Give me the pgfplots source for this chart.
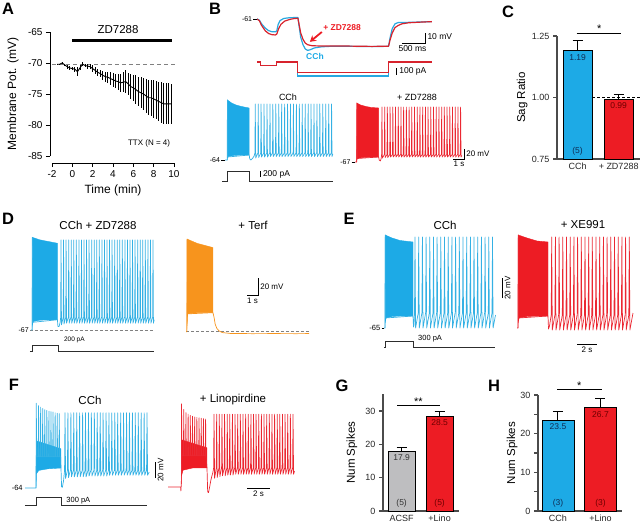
\documentclass[border=0pt]{standalone}
\usepackage{fontspec}
\setmainfont{Liberation Sans}
\usepackage{pgfplots}
\pgfplotsset{compat=1.18}
\usetikzlibrary{arrows.meta}

\definecolor{cblue}{RGB}{29,170,230}
\definecolor{sblue}{RGB}{52,177,228}
\definecolor{cred}{RGB}{237,28,36}
\definecolor{sred}{RGB}{235,40,50}
\definecolor{corange}{RGB}{247,148,29}
\definecolor{cgray}{RGB}{190,190,192}
\definecolor{axgray}{RGB}{75,75,75}
\definecolor{curr}{RGB}{45,45,45}
\definecolor{tblue}{RGB}{15,45,85}
\definecolor{tred}{RGB}{110,0,0}

\newcommand{\fs}[1]{\fontsize{#1}{#1}\selectfont}

\pgfplotsset{
  trace/.style={hide axis, scale only axis, clip=false, anchor=south west},
  barax/.style={scale only axis, anchor=south west, clip mode=individual,
    axis x line*=bottom, axis y line*=left,
    axis line style={line width=1.3pt, draw=axgray},
    tick style={line width=1.1pt, draw=axgray}, xtick style={draw=none},
    tick align=outside, major tick length=4pt, minor tick length=4pt,
    xtick={0,1},
    tick label style={font=\fs{9}, text=black!85},
    xticklabel style={yshift=3.5pt},
    ylabel style={font=\fs{11.5}, anchor=center}},
  spk/.style={line width=0.7pt, line join=round},
  bars/.style={ybar, bar shift=0pt, draw=black, line width=0.8pt,
    error bars/y dir=plus, error bars/y explicit,
    error bars/error bar style={line width=1pt, black},
    error bars/error mark options={rotate=90, line width=1pt, mark size=5pt, black}},
}

\begin{document}
\begin{tikzpicture}[x=1pt,y=-1pt]
\path[use as bounding box] (0,0) rectangle (640,525);

% panel letters
\foreach \l/\xx/\yy in {A/8/9,B/215/9,C/508/12,D/8/219,E/349/219,F/14/385,G/342/386,H/494/386}
  \node[font=\fs{16.5}\bfseries] at (\xx,\yy) {\l};

% ---------- A ----------
\begin{axis}[scale only axis, anchor=south west, at={(52pt,-156pt)}, width=122pt, height=124pt,
  xmin=-2, xmax=10, ymin=-85, ymax=-65, clip=false,
  axis x line*=bottom, axis y line*=left, axis x line shift=7pt, axis y line shift=2pt,
  axis line style={line width=0.8pt}, tick style={line width=0.8pt, black},
  tick align=outside, major tick length=4pt,
  xtick={-2,0,2,4,6,8,10}, xticklabels={-2,0,2,4,6,8,10},
  ytick={-85,-80,-75,-70,-65}, yticklabels={-85,-80,-75,-70,-65},
  tick label style={font=\fs{10}},
  xlabel={Time (min)}, ylabel={Membrane Pot. (mV)},
  xlabel style={font=\fs{12}, at={(axis description cs:0.5,0)}, anchor=center, yshift=-34pt},
  ylabel style={font=\fs{12}, at={(axis description cs:-0.32,0.5)}, anchor=center}]
\draw[gray, line width=0.8pt, dash pattern=on 4pt off 3pt] (axis cs:-2,-70.2) -- (axis cs:10.1,-70.2);
\addplot[black, line width=0.9pt, error bars/.cd, y dir=both, y explicit,
  error bar style={line width=0.9pt}, error mark=none] coordinates {
(-1.5,-70.2) +- (0,0.1) (-1.25,-70.2) +- (0,0.1) (-1,-70.0) +- (0,0.2) (-0.75,-70.3) +- (0,0.2)
(-0.5,-70.6) +- (0,0.3) (-0.25,-70.8) +- (0,0.3) (0,-70.9) +- (0,0.3) (0.25,-71.0) +- (0,0.4)
(0.5,-71.4) +- (0,0.7) (0.75,-70.8) +- (0,0.4) (1,-70.2) +- (0,0.3) (1.25,-70.4) +- (0,0.3)
(1.5,-70.5) +- (0,0.4) (1.75,-70.6) +- (0,0.4) (2,-70.9) +- (0,0.5) (2.25,-71.2) +- (0,0.5)
(2.5,-71.5) +- (0,0.6) (2.75,-71.7) +- (0,0.6) (3,-72.0) +- (0,0.7) (3.25,-72.2) +- (0,0.8)
(3.5,-72.3) +- (0,0.9) (3.75,-72.5) +- (0,1.0) (4,-72.7) +- (0,1.1) (4.25,-72.9) +- (0,1.2)
(4.5,-73.0) +- (0,1.3) (4.75,-73.2) +- (0,1.5) (5,-73.1) +- (0,1.6) (5.25,-73.0) +- (0,1.8)
(5.5,-73.4) +- (0,1.8) (5.75,-73.8) +- (0,2.0) (6,-74.0) +- (0,2.1) (6.25,-74.3) +- (0,2.3)
(6.5,-74.6) +- (0,2.4) (6.75,-74.8) +- (0,2.5) (7,-75.0) +- (0,2.6) (7.25,-75.3) +- (0,2.7)
(7.5,-75.6) +- (0,2.8) (7.75,-75.6) +- (0,2.9) (8,-75.8) +- (0,3.0) (8.25,-76.0) +- (0,3.1)
(8.5,-76.2) +- (0,3.2) (8.75,-76.4) +- (0,3.3) (9,-76.6) +- (0,3.3) (9.25,-76.6) +- (0,3.3)
(9.5,-76.6) +- (0,3.3) (9.75,-76.6) +- (0,3.2)};
\draw[line width=3pt] (axis cs:0,-66.3) -- (axis cs:9.8,-66.3);
\node[font=\fs{11.5}] at (axis cs:4.5,-64.6) {ZD7288};
\node[font=\fs{8}] at (axis cs:7.55,-82.9) {TTX (N = 4)};
\end{axis}

% ---------- B top: sag ----------
\begin{axis}[trace, at={(257pt,-55.4pt)}, width=174.8pt, height=42.8pt, xmin=0, xmax=3.8, ymin=-95, ymax=-55]
\addplot[color={rgb,255:red,40;green,168;blue,224}, line width=1.2pt, line join=round] coordinates {
(0,-61) (0.05,-62) (0.1,-65.5) (0.18,-69.5) (0.25,-71.8) (0.32,-72.8) (0.40,-73) (0.43,-72)
(0.46,-66) (0.5,-62.5) (0.58,-60.5) (0.7,-59.8) (0.89,-59.5) (0.91,-66) (0.95,-78) (1.0,-85)
(1.05,-89) (1.1,-90.3) (1.15,-89.8) (1.25,-88) (1.4,-87) (1.6,-86.5) (2.0,-86.5) (2.5,-86.8)
(2.86,-86.5) (2.89,-79) (2.94,-70) (3.0,-65.5) (3.07,-64.3) (3.3,-64.1) (3.6,-63.7) (3.8,-63.4)};
\addplot[color={rgb,255:red,215;green,35;blue,45}, line width=1.2pt, line join=round] coordinates {
(0,-61) (0.05,-62.5) (0.1,-67) (0.18,-72) (0.25,-74.5) (0.32,-75.6) (0.40,-75.9) (0.43,-75)
(0.47,-70) (0.52,-66) (0.6,-63) (0.7,-61.5) (0.8,-60.6) (0.89,-60.3) (0.91,-65) (0.95,-74)
(1.0,-80) (1.05,-83.5) (1.1,-85) (1.2,-86) (1.4,-86.2) (2.0,-86.3) (2.5,-86.6) (2.86,-86.4)
(2.89,-81) (2.94,-74) (3.0,-69) (3.07,-67) (3.15,-65.5) (3.3,-64.5) (3.6,-63.8) (3.8,-63.5)};
\draw[line width=0.6pt] (axis cs:-0.08,-61) -- (axis cs:0,-61);
\node[font=\fs{7}, anchor=east, inner sep=1pt] at (axis cs:-0.08,-61) {-61};
\draw[line width=0.8pt] (axis cs:3.15,-83.4) -- (axis cs:3.65,-83.4) -- (axis cs:3.65,-74.1);
\node[font=\fs{8.5}, anchor=west, inner sep=1.5pt] at (axis cs:3.67,-77.8) {10 mV};
\node[font=\fs{8.5}, anchor=north, inner sep=1.5pt] at (axis cs:3.38,-84) {500 ms};
\node[font=\fs{8.5}\bfseries, text=cred] at (axis cs:1.85,-69.4) {+ ZD7288};
\draw[cred, line width=1.8pt, -{Stealth[length=6pt,width=7pt]}] (axis cs:1.41,-73.1) -- (axis cs:1.15,-82.3);
\node[font=\fs{8.5}\bfseries, text=cblue] at (axis cs:1.26,-95.6) {CCh};
\end{axis}
\begin{axis}[trace, at={(257pt,-79.5pt)}, width=174.8pt, height=17.5pt, xmin=0, xmax=3.8, ymin=-250, ymax=0]
\addplot[color={rgb,255:red,40;green,168;blue,224}, line width=1.1pt] coordinates {
(0,0) (0.07,0) (0.07,-50) (0.43,-50) (0.43,0) (0.89,0) (0.89,-200) (2.86,-200) (2.86,0) (3.8,0)};
\addplot[color={rgb,255:red,215;green,35;blue,45}, line width=1.1pt] coordinates {
(0,0) (0.07,0) (0.07,-50) (0.43,-50) (0.43,0) (0.89,0) (0.89,-150) (2.86,-150) (2.86,0) (3.8,0)};
\draw[line width=0.8pt] (axis cs:3.04,-86) -- (axis cs:3.04,-186);
\node[font=\fs{8.5}, anchor=west, inner sep=1.5pt] at (axis cs:3.06,-136) {100 pA};
\end{axis}

% ---------- B bottom ----------
\node[font=\fs{9}] at (288,97) {CCh};
\node[font=\fs{9}] at (417,97) {+ ZD7288};
\begin{axis}[trace, at={(225pt,-168pt)}, width=110pt, height=70pt, xmin=0, xmax=10, ymin=-80, ymax=60]
\addplot[fill=cblue, draw=cblue, line width=0.4pt] coordinates {
(0.2,-64) (0.22,56) (0.6,50) (1.0,46) (1.5,43) (2.2,40) (2.2,-54) (1.5,-54) (0.8,-55) (0.3,-57) (0.22,-60)};
\addplot[sblue, spk] coordinates {
(0,-64) (0.2,-64) (0.22,56) (0.25,-58) (2.2,-54) (2.25,-62) (2.35,-64) (2.5,-61) (2.65,-56)
(2.72,-50) (2.75,48) (2.79,-60) (2.99,-50) (3.02,48) (3.06,-59) (3.25,-50) (3.28,48) (3.32,-58)
(3.52,-50) (3.55,48) (3.59,-58) (3.79,-50) (3.82,48) (3.86,-58) (4.06,-50) (4.09,48) (4.13,-57)
(4.32,-50) (4.35,48) (4.39,-57) (4.59,-50) (4.62,48) (4.66,-57) (4.86,-50) (4.89,48) (4.93,-57)
(5.12,-50) (5.15,48) (5.19,-57) (5.39,-50) (5.42,48) (5.46,-57) (5.66,-50) (5.69,48) (5.73,-57)
(5.92,-50) (5.95,48) (5.99,-57) (6.19,-50) (6.22,48) (6.26,-57) (6.46,-50) (6.49,48) (6.53,-57)
(6.73,-50) (6.76,48) (6.80,-57) (6.99,-50) (7.02,48) (7.06,-57) (7.26,-50) (7.29,48) (7.33,-57)
(7.53,-50) (7.56,48) (7.60,-57) (7.79,-50) (7.82,48) (7.86,-57) (8.06,-50) (8.09,48) (8.13,-57)
(8.33,-50) (8.36,48) (8.40,-57) (8.59,-50) (8.62,48) (8.66,-57) (8.86,-50) (8.89,48) (8.93,-57)
(9.13,-50) (9.16,48) (9.20,-57) (9.40,-50) (9.43,48) (9.47,-57) (9.66,-50) (9.69,48) (9.73,-57)
(9.8,-52)};
\draw[line width=0.6pt] (axis cs:-0.35,-64) -- (axis cs:0,-64);
\node[font=\fs{7}, anchor=east, inner sep=1pt] at (axis cs:-0.35,-64) {-64};
\end{axis}
\begin{axis}[trace, at={(355pt,-168.5pt)}, width=110pt, height=70pt, xmin=0, xmax=10, ymin=-80, ymax=60]
\addplot[fill=cred, draw=cred, line width=0.4pt] coordinates {
(0.15,-67) (0.17,51) (0.5,47) (1.0,44) (1.5,42) (2.15,41) (2.15,-57) (1.5,-57) (0.8,-58) (0.3,-59) (0.17,-62)};
\addplot[sred, spk] coordinates {
(0,-67) (0.15,-67) (0.17,51) (0.2,-60) (2.15,-57) (2.2,-63) (2.3,-65) (2.38,-60)
(2.42,-52) (2.45,43) (2.49,-59) (2.67,-52) (2.70,43) (2.74,-58) (2.91,-52) (2.94,43) (2.98,-58)
(3.16,-52) (3.19,43) (3.23,-57) (3.41,-52) (3.44,43) (3.48,-57) (3.65,-52) (3.68,43) (3.72,-57)
(3.90,-52) (3.93,43) (3.97,-57) (4.15,-52) (4.18,43) (4.22,-57) (4.39,-52) (4.42,43) (4.46,-57)
(4.64,-52) (4.67,43) (4.71,-57) (4.89,-52) (4.92,43) (4.96,-57) (5.13,-52) (5.16,43) (5.20,-57)
(5.38,-52) (5.41,43) (5.45,-57) (5.63,-52) (5.66,43) (5.70,-57) (5.87,-52) (5.90,43) (5.94,-57)
(6.12,-52) (6.15,43) (6.19,-57) (6.37,-52) (6.40,43) (6.44,-57) (6.61,-52) (6.64,43) (6.68,-57)
(6.86,-52) (6.89,43) (6.93,-57) (7.11,-52) (7.14,43) (7.18,-57) (7.35,-52) (7.38,43) (7.42,-57)
(7.60,-52) (7.63,43) (7.67,-57) (7.85,-52) (7.88,43) (7.92,-57) (8.09,-52) (8.12,43) (8.16,-57)
(8.34,-52) (8.37,43) (8.41,-57) (8.59,-52) (8.62,43) (8.66,-57) (8.83,-52) (8.86,43) (8.90,-57)
(9.08,-52) (9.11,43) (9.15,-57) (9.33,-52) (9.36,43) (9.40,-57) (9.57,-52) (9.60,43) (9.64,-57)
(9.72,-54)};
\draw[line width=0.6pt] (axis cs:-0.3,-67) -- (axis cs:0,-67);
\node[font=\fs{7}, anchor=east, inner sep=1pt] at (axis cs:-0.3,-67) {-67};
\draw[line width=0.8pt] (axis cs:8.95,-61) -- (axis cs:9.95,-61) -- (axis cs:9.95,-41);
\node[font=\fs{8}, anchor=west, inner sep=1.5pt] at (axis cs:9.97,-51) {20 mV};
\node[font=\fs{8}, anchor=north, inner sep=1.5pt] at (axis cs:9.45,-62) {1 s};
\end{axis}
\begin{axis}[trace, at={(221.7pt,-181pt)}, width=113.3pt, height=10.5pt, xmin=-0.3, xmax=10, ymin=0, ymax=350]
\addplot[curr, line width=0.8pt] coordinates {(-0.27,0) (0.2,0) (0.2,330) (2.2,330) (2.2,0) (9.8,0)};
\draw[line width=0.8pt] (axis cs:3.2,130) -- (axis cs:3.2,330);
\node[font=\fs{8.5}, anchor=west, inner sep=1.5pt] at (axis cs:3.3,230) {200 pA};
\end{axis}

% ---------- C ----------
\begin{axis}[barax, at={(557pt,-159pt)}, width=83pt, height=123pt, xmin=-0.5, xmax=1.52,
  ymin=0.75, ymax=1.25, ytick={0.75,1,1.25}, yticklabels={0.75,1.00,1.25},
  xticklabels={CCh,+ ZD7288}, ylabel={Sag Ratio},
  ylabel style={at={(axis description cs:-0.42,0.5)}}]
\addplot[bars, bar width=0.71, fill=cblue] coordinates {(0,1.19) +- (0,0.04)};
\addplot[bars, bar width=0.71, fill=cred] coordinates {(1,0.994) +- (0,0.018)};
\draw[black, line width=0.8pt, dash pattern=on 3pt off 2pt] (axis cs:0.36,1) -- (axis cs:1.52,1);
\node[font=\fs{8.5}, text=tblue, anchor=north] at (axis cs:0,1.19) {1.19};
\node[font=\fs{8.5}, text=tred, anchor=north] at (axis cs:1,0.994) {0.99};
\node[font=\fs{8.5}, text=tblue, anchor=south] at (axis cs:0,0.75) {(5)};
\draw[line width=1pt] (axis cs:-0.02,1.262) -- (axis cs:1.05,1.262);
\node[font=\fs{11}, anchor=south, inner sep=0pt] at (axis cs:0.53,1.262) {*};
\end{axis}

% ---------- D ----------
\node[font=\fs{11.5}] at (98,225) {CCh + ZD7288};
\node[font=\fs{11.5}] at (253,225) {+ Terf};
\begin{axis}[trace, at={(31pt,-341pt)}, width=123.2pt, height=119pt, xmin=0, xmax=11.2, ymin=-80, ymax=60]
\draw[gray, line width=0.8pt, dash pattern=on 3pt off 2pt] (axis cs:-0.1,-67) -- (axis cs:11.2,-67);
\addplot[fill=cblue, draw=cblue, line width=0.4pt] coordinates {
(0.1,-67) (0.12,42) (0.8,39) (1.6,37) (2.4,35) (2.4,-55) (1.6,-55) (0.8,-55.5) (0.2,-57) (0.12,-62)};
\addplot[sblue, spk] coordinates {
(0,-67) (0.1,-67) (0.12,42) (0.15,-58) (2.4,-55) (2.45,-63) (2.55,-63) (2.65,-58)
(2.70,-52) (2.73,39) (2.77,-61) (2.93,-52) (2.96,39) (3.00,-60) (3.16,-52) (3.19,39) (3.23,-59)
(3.40,-52) (3.43,39) (3.47,-59) (3.63,-52) (3.66,39) (3.70,-59) (3.86,-52) (3.89,39) (3.93,-59)
(4.09,-52) (4.12,39) (4.16,-59) (4.33,-52) (4.36,39) (4.40,-59) (4.56,-52) (4.59,39) (4.63,-59)
(4.79,-52) (4.82,39) (4.86,-59) (5.02,-52) (5.05,39) (5.09,-59) (5.25,-52) (5.28,39) (5.32,-59)
(5.49,-52) (5.52,39) (5.56,-59) (5.72,-52) (5.75,39) (5.79,-59) (5.95,-52) (5.98,39) (6.02,-59)
(6.18,-52) (6.21,39) (6.25,-59) (6.42,-52) (6.45,39) (6.49,-59) (6.65,-52) (6.68,39) (6.72,-59)
(6.88,-52) (6.91,39) (6.95,-59) (7.11,-52) (7.14,39) (7.18,-59) (7.34,-52) (7.37,39) (7.41,-59)
(7.58,-52) (7.61,39) (7.65,-59) (7.81,-52) (7.84,39) (7.88,-59) (8.04,-52) (8.07,39) (8.11,-59)
(8.27,-52) (8.30,39) (8.34,-59) (8.51,-52) (8.54,39) (8.58,-59) (8.74,-52) (8.77,39) (8.81,-59)
(8.97,-52) (9.00,39) (9.04,-59) (9.20,-52) (9.23,39) (9.27,-59) (9.43,-52) (9.46,39) (9.50,-59)
(9.67,-52) (9.70,39) (9.74,-59) (9.90,-52) (9.93,39) (9.97,-59) (10.13,-52) (10.16,39) (10.20,-59)
(10.36,-52) (10.39,39) (10.43,-59) (10.60,-52) (10.63,39) (10.67,-59) (10.83,-52) (10.86,39) (10.90,-59)
(11.06,-52) (11.09,39) (11.13,-59) (11.2,-55)};
\node[font=\fs{7}, anchor=east, inner sep=1pt] at (axis cs:-0.1,-67) {-67};
\end{axis}
\begin{axis}[trace, at={(186pt,-342.75pt)}, width=123.2pt, height=119pt, xmin=0, xmax=11.2, ymin=-80, ymax=60]
\draw[gray, line width=0.8pt, dash pattern=on 3pt off 2pt] (axis cs:0,-67) -- (axis cs:11.2,-67);
\addplot[fill=corange, draw=corange, line width=0.4pt] coordinates {
(0.08,-67) (0.1,42) (1.0,37) (2.45,32) (2.45,-44.6) (1.0,-44.6) (0.15,-46) (0.1,-60)};
\addplot[corange, spk] coordinates {
(0,-67) (0.08,-67) (0.1,42) (0.13,-46) (2.45,-44.6) (2.55,-50) (2.65,-58) (2.8,-63) (3.0,-66)
(3.3,-68) (4,-69) (6,-69.3) (8,-69.2) (10,-69.3) (11.2,-69.2)};
\draw[line width=0.8pt] (axis cs:5.55,-23.8) -- (axis cs:6.55,-23.8) -- (axis cs:6.55,-3.8);
\node[font=\fs{8}, anchor=west, inner sep=1.5pt] at (axis cs:6.6,-13.8) {20 mV};
\node[font=\fs{8}, anchor=north, inner sep=1.5pt] at (axis cs:6.05,-25) {1 s};
\end{axis}
\begin{axis}[trace, at={(31pt,-351pt)}, width=123.2pt, height=6.25pt, xmin=0, xmax=11.2, ymin=0, ymax=250]
\addplot[curr, line width=0.8pt] coordinates {(-0.1,0) (0.1,0) (0.1,240) (2.45,240) (2.45,0) (11.2,0)};
\node[font=\fs{6.5}, anchor=west, inner sep=1pt] at (axis cs:2.9,440) {200 pA};
\end{axis}

% ---------- E ----------
\node[font=\fs{11.5}] at (445,225) {CCh};
\node[font=\fs{11.5}] at (583,225) {+ XE991};
\begin{axis}[trace, at={(384pt,-338pt)}, width=112pt, height=110pt, xmin=0, xmax=11.2, ymin=-75, ymax=35]
\addplot[fill=cblue, draw=cblue, line width=0.4pt] coordinates {
(0.1,-65) (0.12,28) (0.8,25) (1.6,22.5) (2.9,21) (2.9,-53) (1.6,-53) (0.8,-53.5) (0.2,-55) (0.12,-60)};
\addplot[sblue, spk] coordinates {
(0,-65) (0.1,-65) (0.12,28) (0.15,-55) (2.9,-53) (2.95,-64) (3.0,-62)
(3.05,-50) (3.10,26) (3.16,-65) (3.42,-50) (3.47,26) (3.53,-65) (3.79,-50) (3.84,26) (3.90,-65)
(4.16,-50) (4.21,26) (4.27,-65) (4.53,-50) (4.58,26) (4.64,-65) (4.90,-50) (4.95,26) (5.01,-65)
(5.26,-50) (5.31,26) (5.37,-65) (5.63,-50) (5.68,26) (5.74,-65) (6.00,-50) (6.05,26) (6.11,-65)
(6.37,-50) (6.42,26) (6.48,-65) (6.74,-50) (6.79,26) (6.85,-65) (7.11,-50) (7.16,26) (7.22,-65)
(7.48,-50) (7.53,26) (7.59,-65) (7.85,-50) (7.90,26) (7.96,-65) (8.22,-50) (8.27,26) (8.33,-65)
(8.59,-50) (8.64,26) (8.70,-65) (8.95,-50) (9.00,26) (9.06,-65) (9.32,-50) (9.37,26) (9.43,-65)
(9.69,-50) (9.74,26) (9.80,-65) (10.06,-50) (10.11,26) (10.17,-65) (10.43,-50) (10.48,26) (10.54,-65)
(10.80,-50) (10.85,26) (10.91,-65) (11.15,-52)};
\draw[line width=0.6pt] (axis cs:-0.25,-65) -- (axis cs:0,-65);
\node[font=\fs{7.5}, anchor=east, inner sep=1pt] at (axis cs:-0.25,-65) {-65};
\draw[line width=0.8pt] (axis cs:11.8,-35) -- (axis cs:11.8,-15);
\node[font=\fs{8}, rotate=90, anchor=north, inner sep=1.5pt] at (axis cs:11.9,-25) {20 mV};
\end{axis}
\begin{axis}[trace, at={(517pt,-338pt)}, width=118pt, height=110pt, xmin=0, xmax=11.8, ymin=-75, ymax=35]
\addplot[fill=cred, draw=cred, line width=0.4pt] coordinates {
(0.1,-65) (0.12,28) (1.0,25) (2.0,22) (3.1,21) (3.1,-53) (2.0,-53) (1.0,-53.5) (0.2,-55) (0.12,-60)};
\addplot[sred, spk] coordinates {
(0,-65) (0.1,-65) (0.12,28) (0.15,-55) (3.1,-53) (3.15,-66) (3.25,-63)
(3.42,-52) (3.47,26) (3.53,-67) (3.79,-52) (3.84,26) (3.90,-67) (4.16,-52) (4.21,26) (4.27,-67)
(4.53,-52) (4.58,26) (4.64,-67) (4.90,-52) (4.95,26) (5.01,-67) (5.27,-52) (5.32,26) (5.38,-67)
(5.64,-52) (5.69,26) (5.75,-67) (6.01,-52) (6.06,26) (6.12,-67) (6.38,-52) (6.43,26) (6.49,-67)
(6.75,-52) (6.80,26) (6.86,-67) (7.12,-52) (7.17,26) (7.23,-67) (7.48,-52) (7.53,26) (7.59,-67)
(7.85,-52) (7.90,26) (7.96,-67) (8.22,-52) (8.27,26) (8.33,-67) (8.59,-52) (8.64,26) (8.70,-67)
(8.96,-52) (9.01,26) (9.07,-67) (9.33,-52) (9.38,26) (9.44,-67) (9.70,-52) (9.75,26) (9.81,-67)
(10.07,-52) (10.12,26) (10.18,-67) (10.44,-52) (10.49,26) (10.55,-67) (10.81,-52) (10.86,26) (10.92,-67)
(11.18,-52) (11.23,26) (11.29,-67) (11.6,-50)};
\draw[line width=0.8pt] (axis cs:6,-81) -- (axis cs:8,-81);
\node[font=\fs{8}, anchor=north, inner sep=1.5pt] at (axis cs:7,-82) {2 s};
\end{axis}
\begin{axis}[trace, at={(384pt,-347pt)}, width=112pt, height=7pt, xmin=0, xmax=11.2, ymin=0, ymax=350]
\addplot[curr, line width=0.8pt] coordinates {(0,0) (0.1,0) (0.1,300) (2.9,300) (2.9,0) (11.1,0)};
\node[font=\fs{7.5}, anchor=west, inner sep=1pt] at (axis cs:3.3,420) {300 pA};
\end{axis}

% ---------- F ----------
\node[font=\fs{11.5}] at (90,400) {CCh};
\node[font=\fs{11.5}] at (233,400) {+ Linopirdine};
\begin{axis}[trace, at={(25pt,-500.8pt)}, width=126.5pt, height=104pt, xmin=0, xmax=11, ymin=-80, ymax=50]
\addplot[fill=cblue, draw=cblue, line width=0.4pt] coordinates {
(0.96,-64) (0.98,-5) (3.13,-15) (3.13,-39) (2.0,-40) (1.2,-42) (1.0,-46) (0.97,-60)};
\addplot[sblue, spk] coordinates {
(0,-64) (0.96,-64) (0.98,42) (1.02,-25) (1.15,-25) (1.18,39) (1.21,-25) (1.33,-25) (1.36,37) (1.39,-25)
(1.51,-25) (1.54,35.5) (1.57,-25) (1.69,-25) (1.72,34) (1.75,-25) (1.87,-25) (1.90,33) (1.93,-25)
(2.05,-25) (2.08,32) (2.11,-25) (2.23,-25) (2.26,31.5) (2.29,-25) (2.41,-25) (2.44,31) (2.47,-25)
(2.59,-25) (2.62,30) (2.65,-25) (2.77,-25) (2.80,29.5) (2.83,-25) (2.95,-25) (2.98,29) (3.01,-25)
(3.10,-25) (3.13,-39) (3.18,-62.5) (3.25,-63) (3.35,-55)
(3.44,-42) (3.48,30) (3.53,-52) (3.69,-42) (3.73,30) (3.78,-51) (3.95,-42) (3.99,30) (4.04,-50)
(4.20,-42) (4.24,30) (4.29,-50) (4.46,-42) (4.50,30) (4.55,-50) (4.71,-42) (4.75,30) (4.80,-50)
(4.97,-42) (5.01,30) (5.06,-50) (5.22,-42) (5.26,30) (5.31,-50) (5.48,-42) (5.52,30) (5.57,-49)
(5.73,-42) (5.77,30) (5.82,-49) (5.99,-42) (6.03,30) (6.08,-49) (6.24,-42) (6.28,30) (6.33,-49)
(6.50,-42) (6.54,30) (6.59,-49) (6.75,-42) (6.79,30) (6.84,-49) (7.01,-42) (7.05,30) (7.10,-49)
(7.26,-42) (7.30,30) (7.35,-48) (7.51,-42) (7.55,30) (7.60,-48) (7.77,-42) (7.81,30) (7.86,-48)
(8.02,-42) (8.06,30) (8.11,-48) (8.28,-42) (8.32,30) (8.37,-48) (8.53,-42) (8.57,30) (8.62,-48)
(8.79,-42) (8.83,30) (8.88,-48) (9.04,-42) (9.08,30) (9.13,-48) (9.30,-42) (9.34,30) (9.39,-48)
(9.55,-42) (9.59,30) (9.64,-48) (9.81,-42) (9.85,30) (9.90,-48) (10.06,-42) (10.10,30) (10.15,-48)
(10.32,-42) (10.36,30) (10.41,-48) (10.57,-42) (10.61,30) (10.66,-48) (10.8,-44)};
\node[font=\fs{7.5}, anchor=east, inner sep=1pt] at (axis cs:-0.1,-64) {-64};
\draw[line width=0.8pt] (axis cs:11.3,-51.5) -- (axis cs:11.3,-31.5);
\node[font=\fs{8}, rotate=90, anchor=north, inner sep=1.5pt] at (axis cs:11.4,-41.5) {20 mV};
\end{axis}
\begin{axis}[trace, at={(168pt,-499.8pt)}, width=126.5pt, height=104pt, xmin=0, xmax=11, ymin=-80, ymax=50]
\addplot[fill=cred, draw=cred, line width=0.4pt] coordinates {
(1.16,-60) (1.18,-5) (3.39,-15) (3.39,-40) (2.2,-40) (1.3,-43) (1.18,-50)};
\addplot[sred, spk] coordinates {
(0,-64) (1.10,-64) (1.12,-69) (1.16,-60) (1.18,40) (1.21,-25) (1.34,-25) (1.37,33) (1.40,-25)
(1.53,-25) (1.56,29) (1.59,-25) (1.72,-25) (1.75,27) (1.78,-25) (1.91,-25) (1.94,25.5) (1.97,-25)
(2.10,-25) (2.13,24.5) (2.16,-25) (2.29,-25) (2.32,23.5) (2.35,-25) (2.48,-25) (2.51,23) (2.54,-25)
(2.67,-25) (2.70,22.5) (2.73,-25) (2.86,-25) (2.89,22) (2.92,-25) (3.05,-25) (3.08,21.5) (3.11,-25)
(3.24,-25) (3.27,21) (3.30,-25) (3.39,-40) (3.45,-70) (3.52,-71) (3.62,-64) (3.72,-56) (3.82,-50) (3.90,-46)
(3.97,-40) (4.00,27) (4.05,-53) (4.20,-40) (4.23,27) (4.28,-52) (4.43,-40) (4.46,27) (4.51,-51)
(4.66,-40) (4.69,27) (4.74,-50) (4.89,-40) (4.92,27) (4.97,-50) (5.12,-40) (5.15,27) (5.20,-49)
(5.34,-40) (5.37,27) (5.42,-49) (5.57,-40) (5.60,27) (5.65,-49) (5.80,-40) (5.83,27) (5.88,-48)
(6.03,-40) (6.06,27) (6.11,-48) (6.26,-40) (6.29,27) (6.34,-48) (6.49,-40) (6.52,27) (6.57,-48)
(6.72,-40) (6.75,27) (6.80,-48) (6.95,-40) (6.98,27) (7.03,-48) (7.18,-40) (7.21,27) (7.26,-48)
(7.41,-40) (7.44,27) (7.49,-48) (7.63,-40) (7.66,27) (7.71,-48) (7.86,-40) (7.89,27) (7.94,-48)
(8.09,-40) (8.12,27) (8.17,-48) (8.32,-40) (8.35,27) (8.40,-48) (8.55,-40) (8.58,27) (8.63,-48)
(8.78,-40) (8.81,27) (8.86,-48) (9.01,-40) (9.04,27) (9.09,-48) (9.24,-40) (9.27,27) (9.32,-48)
(9.47,-40) (9.50,27) (9.55,-48) (9.69,-40) (9.72,27) (9.77,-48) (9.92,-40) (9.95,27) (10.00,-48)
(10.15,-40) (10.18,27) (10.23,-48) (10.38,-40) (10.41,27) (10.46,-48) (10.61,-40) (10.64,27) (10.69,-48)
(10.84,-40) (10.87,27) (10.92,-48) (11.0,-44)};
\draw[line width=0.8pt] (axis cs:6.87,-65.3) -- (axis cs:8.87,-65.3);
\node[font=\fs{8}, anchor=north, inner sep=1.5pt] at (axis cs:7.87,-66.5) {2 s};
\end{axis}
\begin{axis}[trace, at={(25pt,-505pt)}, width=126.5pt, height=8pt, xmin=0, xmax=11, ymin=0, ymax=300]
\addplot[curr, line width=0.8pt] coordinates {(0,0) (0.96,0) (0.96,300) (3.13,300) (3.13,0) (10.6,0)};
\node[font=\fs{7.5}, anchor=west, inner sep=1pt] at (axis cs:3.5,150) {300 pA};
\end{axis}

% ---------- G ----------
\begin{axis}[barax, at={(383pt,-511pt)}, width=76pt, height=116.7pt, xmin=-0.49, xmax=1.51,
  ymin=0, ymax=35, ytick={0,10,20,30}, yticklabels={0,10,20,30},
  xticklabels={ACSF,+Lino}, ylabel={Num Spikes},
  ylabel style={at={(axis description cs:-0.41,0.5)}}]
\addplot[bars, bar width=0.71, fill=cgray] coordinates {(0,17.9) +- (0,1.2)};
\addplot[bars, bar width=0.71, fill=cred] coordinates {(1,28.5) +- (0,1.4)};
\node[font=\fs{8.5}, text=black!80, anchor=north] at (axis cs:0,17.9) {17.9};
\node[font=\fs{8.5}, text=tred, anchor=north] at (axis cs:1,28.5) {28.5};
\node[font=\fs{8.5}, text=black!80, anchor=south] at (axis cs:0,0) {(5)};
\node[font=\fs{8.5}, text=tred, anchor=south] at (axis cs:1,0) {(5)};
\draw[line width=1pt] (axis cs:-0.12,31.5) -- (axis cs:1.01,31.5);
\node[font=\fs{11}, anchor=south, inner sep=0pt] at (axis cs:0.44,31.5) {**};
\end{axis}

% ---------- H ----------
\begin{axis}[barax, at={(538pt,-511pt)}, width=83.7pt, height=116pt, xmin=-0.47, xmax=1.5,
  ymin=0, ymax=30, ytick={0,10,20,30}, yticklabels={0,10,20,30}, minor ytick={5,15,25},
  xticklabels={CCh,+Lino}, ylabel={Num Spikes},
  ylabel style={at={(axis description cs:-0.31,0.5)}}]
\addplot[bars, bar width=0.75, fill=cblue] coordinates {(0,23.5) +- (0,2.2)};
\addplot[bars, bar width=0.75, fill=cred] coordinates {(1,26.7) +- (0,2.3)};
\node[font=\fs{8.5}, text=tblue, anchor=north] at (axis cs:0,23.5) {23.5};
\node[font=\fs{8.5}, text=tred, anchor=north] at (axis cs:1,26.7) {26.7};
\node[font=\fs{8.5}, text=tblue, anchor=south] at (axis cs:0,0) {(3)};
\node[font=\fs{8.5}, text=tred, anchor=south] at (axis cs:1,0) {(3)};
\draw[line width=1pt] (axis cs:-0.02,31.3) -- (axis cs:1.04,31.3);
\node[font=\fs{11}, anchor=south, inner sep=0pt] at (axis cs:0.5,31.3) {*};
\end{axis}

\end{tikzpicture}
\end{document}
